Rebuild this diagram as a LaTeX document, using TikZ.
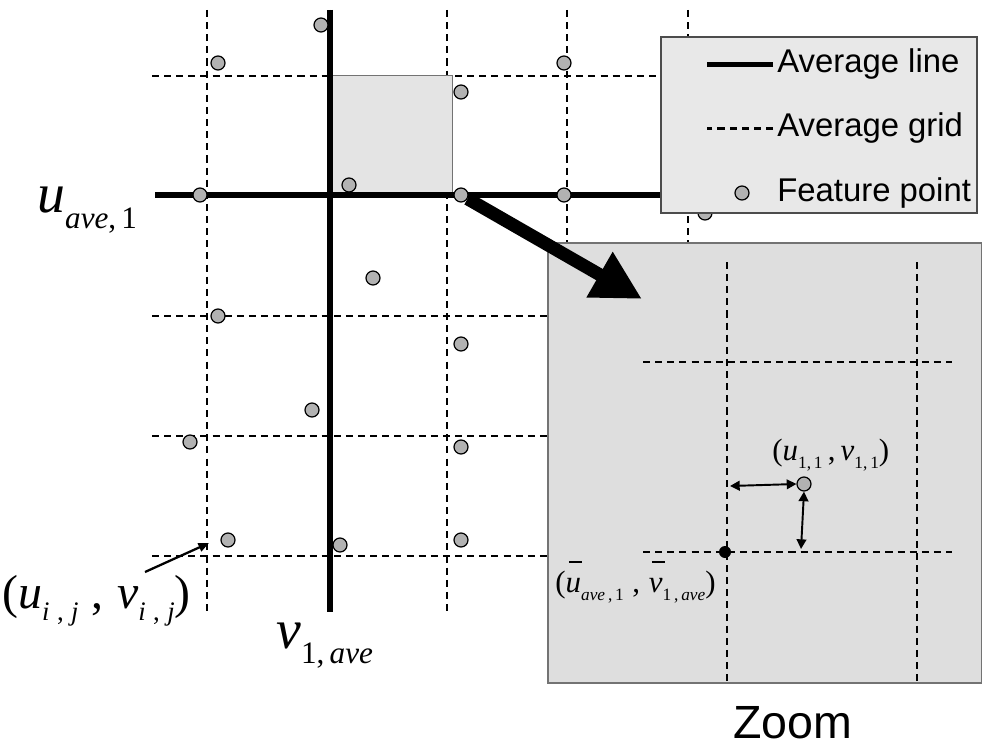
\documentclass[tikz,border=0pt]{standalone}
\usepackage{fontspec}
\usetikzlibrary{arrows.meta}
\newfontfamily\arial{Liberation Sans}
\newfontfamily\tms{Liberation Serif}
\newcommand{\lsub}[1]{\raisebox{-0.27em}{\scalebox{0.56}{#1}}}
\newcommand{\ovr}[1]{\makebox[0pt][l]{\hspace{0.1em}\raisebox{0.95em}{\rule{0.42em}{0.045em}}}#1}
\definecolor{legendgray}{RGB}{232,232,232}
\definecolor{zoomgray}{RGB}{222,222,222}
\definecolor{cellgray}{RGB}{228,228,228}
\tikzset{
  avggrid/.style={dash pattern=on 4pt off 2.9pt, line width=1.5pt},
  avgline/.style={line width=3pt},
  featpt/.style={circle, draw, line width=0.7pt, fill=black!30, minimum size=0.28cm, inner sep=0pt},
  avedot/.style={circle, fill=black, minimum size=0.24cm, inner sep=0pt},
  dist/.style={line width=1.1pt, {Triangle[length=5.5pt, width=5.5pt]}-{Triangle[length=5.5pt, width=5.5pt]}},
  legtext/.style={inner sep=0pt, font=\arial\fontsize{18.7}{20}\selectfont},
  biglabel/.style={inner sep=0pt, font=\tms\fontsize{31.7}{32}\selectfont},
  zlabel/.style={inner sep=0pt, font=\tms\fontsize{17.6}{18}\selectfont}
}
\begin{document}
\begin{tikzpicture}[x=0.02cm, y=-0.02cm]
    \useasboundingbox (0,0) rectangle (982,746);

    % Average grid
    \draw[avggrid] (207,10) -- (207,615);
    \draw[avggrid] (330,10) -- (330,612);
    \draw[avggrid] (447,10) -- (447,615);
    \draw[avggrid] (567,10) -- (567,245);
    \draw[avggrid] (688,10) -- (688,245);
    \draw[avggrid] (152,76) -- (660,76);
    \draw[avggrid] (152,316) -- (548,316);
    \draw[avggrid] (152,436) -- (548,436);
    \draw[avggrid] (152,556) -- (548,556);

    % Shaded cell
    \node[draw=black!55, line width=0.5pt, fill=cellgray, minimum width=2.4cm, minimum height=2.38cm, inner sep=0pt] (cell) at (392,135) {};

    % Average lines
    \draw[avgline] (330,10) -- (330,612);
    \draw[avgline] (155,195) -- (660,195);

    % Feature points
    \node[featpt] (p1) at (321,25) {};
    \node[featpt] (p2) at (218,63) {};
    \node[featpt] (p3) at (564,63) {};
    \node[featpt] (p4) at (461,92) {};
    \node[featpt] (p5) at (200,195) {};
    \node[featpt] (p6) at (349,185) {};
    \node[featpt] (p7) at (461,195) {};
    \node[featpt] (p8) at (564,195) {};
    \node[featpt] (p9) at (705,213) {};
    \node[featpt] (p10) at (373,278) {};
    \node[featpt] (p11) at (218,316) {};
    \node[featpt] (p12) at (461,344) {};
    \node[featpt] (p13) at (312,410) {};
    \node[featpt] (p14) at (190,442) {};
    \node[featpt] (p15) at (461,447) {};
    \node[featpt] (p16) at (228,540) {};
    \node[featpt] (p17) at (340,545) {};
    \node[featpt] (p18) at (461,540) {};

    % Zoom box
    \node[draw=black!55, line width=0.8pt, fill=zoomgray, minimum width=8.68cm, minimum height=8.8cm, inner sep=0pt] (zoombox) at (765,463) {};
    \draw[avggrid] (727,262) -- (727,683);
    \draw[avggrid] (917,262) -- (917,683);
    \draw[avggrid] (643,362) -- (952,362);
    \draw[avggrid] (643,552) -- (952,552);
    \node[avedot] (ave) at (725,552) {};
    \node[featpt] (pz) at (804,484) {};
    \coordinate (hleft) at (730,486);
    \coordinate (vbot) at (801,549);
    \draw[dist] (hleft) -- (pz.west);
    \draw[dist] (vbot) -- (pz.south);
    \node[zlabel, anchor=base west] (u11) at (772,460) {(\textit{u}\lsub{1,\,1}\,,\,\textit{v}\lsub{1,\,1})};
    \node[zlabel, anchor=base west] (uvave) at (555,592) {(\ovr{\textit{u}}\lsub{\textit{ave}\,,\,1}\;,\;\ovr{\textit{v}}\lsub{1\,,\,\textit{ave}})};
    \node[inner sep=0pt, anchor=base west, font=\arial\fontsize{26.5}{27}\selectfont] (zoom) at (733,738) {Zoom};

    % Legend
    \node[draw=black!70, line width=0.8pt, fill=legendgray, minimum width=6.32cm, minimum height=3.52cm, inner sep=0pt] (legend) at (819,125) {};
    \node[legtext, anchor=base west] (legline) at (777,73) {Average line};
    \node[legtext, anchor=base west] (leggrid) at (777,137) {Average grid};
    \node[legtext, anchor=base west] (legpoint) at (777,202) {Feature point};
    \draw[avgline] ([xshift=-0.08cm]legline.west) -- ++(-66,0);
    \draw[avggrid] ([xshift=-0.08cm]leggrid.west) -- ++(-66,0);
    \node[featpt] (legpt) at (742,193) {};

    % Zoom arrow
    \coordinate (zoomtip) at (642,299);
    \draw[line width=7.4pt, -{Triangle[length=0.98cm, width=0.98cm]}] (p7) -- (zoomtip);

    % Labels
    \node[biglabel, anchor=base west] (uave) at (37,213) {\textit{u}\lsub{\textit{ave},\,1}};
    \node[biglabel, anchor=base west] (vave) at (276,648) {\textit{v}\lsub{1,\,\textit{ave}}};
    \node[inner sep=0pt, anchor=base west, font=\tms\fontsize{27.2}{28}\selectfont] (uij) at (2,608) {(\textit{u}\lsub{\textit{i}\;,\;\textit{j}}\;,\;\textit{v}\lsub{\textit{i}\;,\;\textit{j}})};
    \coordinate (ijtail) at (145,572);
    \coordinate (ijhead) at (209,543);
    \draw[line width=1.3pt, -{Triangle[length=6pt, width=5pt]}] (ijtail) -- (ijhead);
\end{tikzpicture}
\end{document}
